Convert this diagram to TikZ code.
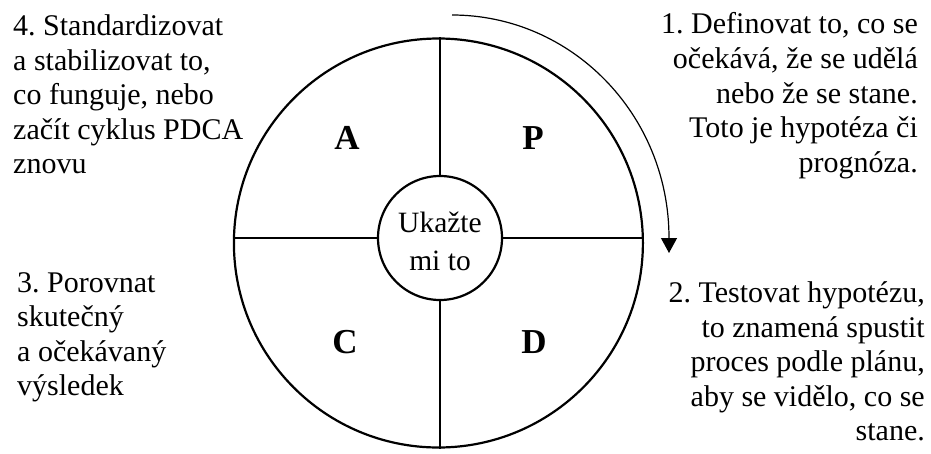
\documentclass[tikz,border=0pt]{standalone}
\usepackage{fontspec}
\setmainfont{Liberation Serif}
\frenchspacing
\usetikzlibrary{arrows.meta}
\tikzset{
  body/.style={inner sep=0pt, font=\fontsize{30}{34.6}\selectfont\frenchspacing},
  letter/.style={inner sep=0pt, font=\fontsize{35}{38}\selectfont\bfseries},
  ring/.style={circle, draw, line width=2.2pt, inner sep=0pt},
  cross/.style={line width=1.4pt},
  cycle/.style={line width=1.2pt, -{Triangle[width=16pt,length=15pt]}}
}
\begin{document}
\begin{tikzpicture}[x=1pt,y=-1pt]
\useasboundingbox (0,0) rectangle (931,453);
\node[ring, minimum size=409pt] (outer) at (438.4,243) {};
\node[ring, minimum size=124pt, fill=white] (inner) at (440,238) {};
\node[inner sep=0pt, anchor=north, align=center, font=\fontsize{29.5}{38}\selectfont] (show) at (440,212) {Ukažte\\mi to};
\draw[cross] (inner.north) -- (inner.north |- outer.north);
\draw[cross] (inner.south) -- (inner.south |- outer.south);
\draw[cross] (inner.west) -- (inner.west -| outer.west);
\draw[cross] (inner.east) -- (inner.east -| outer.east);
\node[letter] (A) at (347,138) {A};
\node[letter] (P) at (533,138) {P};
\node[letter] (C) at (345,342) {C};
\node[letter] (D) at (534,342) {D};
\coordinate (arrstart) at (452,15);
\coordinate (arrend) at (669,253);
\draw[cycle] (arrstart) arc[start angle=90, end angle=0, x radius=217pt, y radius=223pt] -- (arrend);
\node[body, anchor=north west, align=left] (t4) at (13,14.5) {4. Standardizovat\\a stabilizovat to,\\co funguje, nebo\\začít cyklus PDCA\\znovu};
\node[body, anchor=north east, align=right] (t1) at (918,12.5) {1. Definovat to, co se\\očekává, že se udělá\\nebo že se stane.\\Toto je hypotéza či\\prognóza.};
\node[body, anchor=north west, align=left] (t3) at (17,272) {3. Porovnat\\skutečný\\a očekávaný\\výsledek};
\node[body, anchor=north east, align=right] (t2) at (925,281.5) {2. Testovat hypotézu,\\to znamená spustit\\proces podle plánu,\\aby se vidělo, co se\\stane.};
\end{tikzpicture}
\end{document}
